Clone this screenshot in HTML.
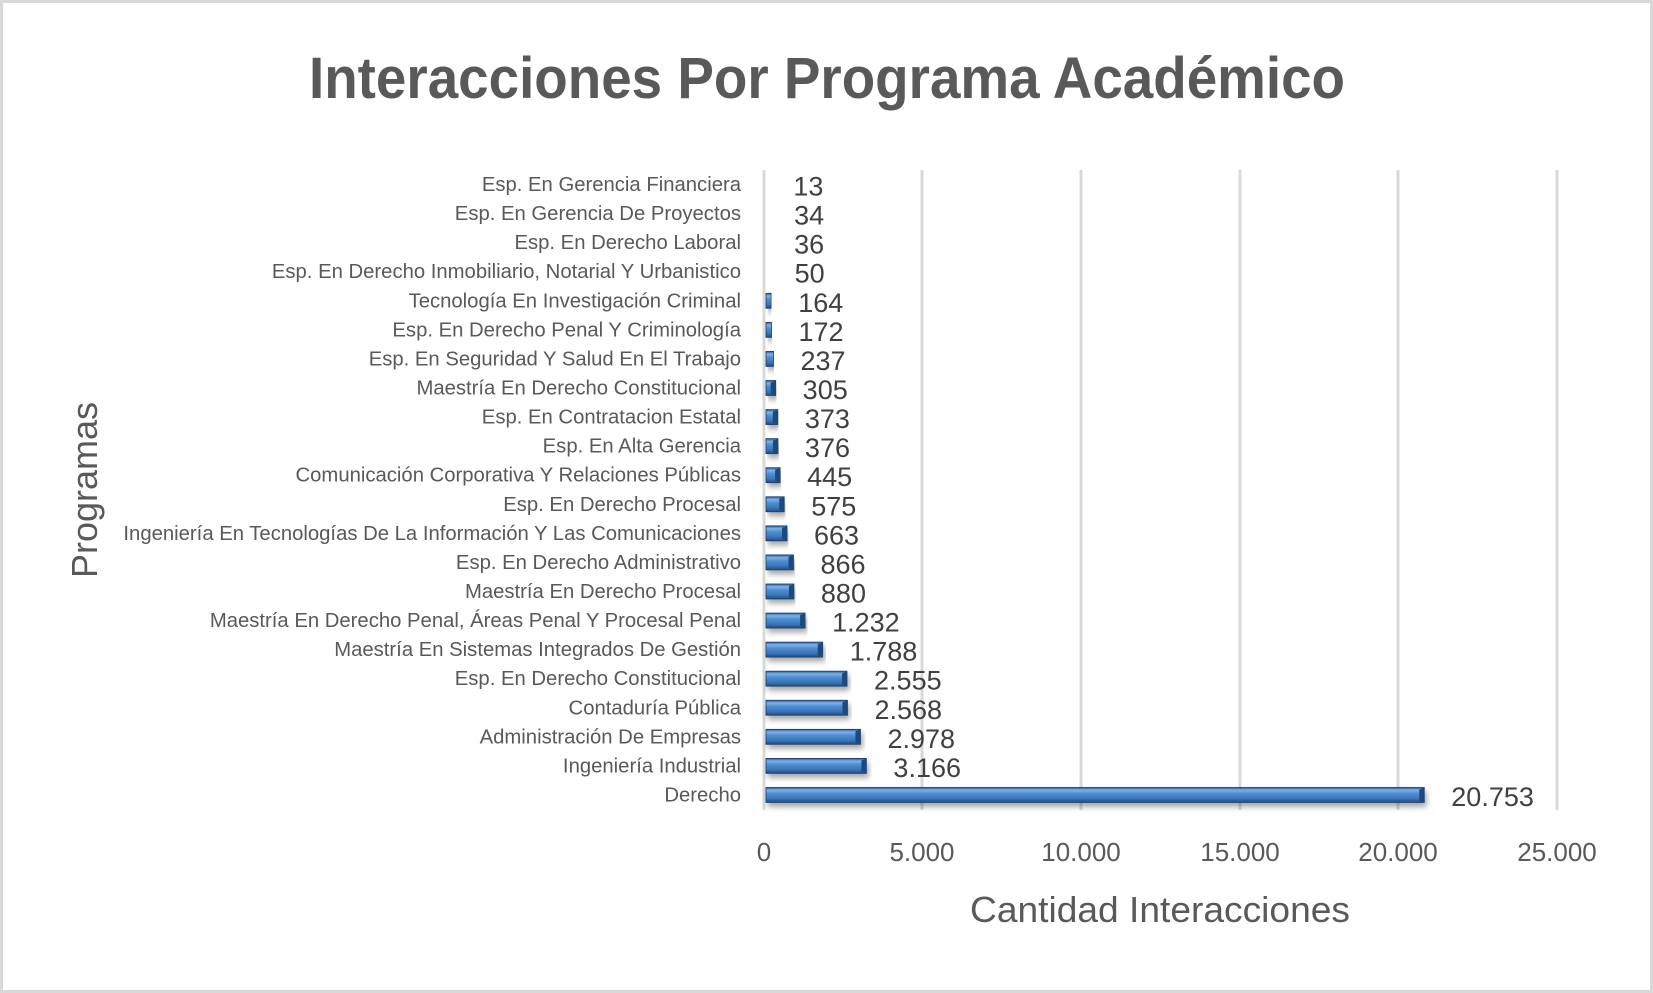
<!DOCTYPE html>
<html><head><meta charset="utf-8"><style>
html,body{margin:0;padding:0;background:#fff;}
svg{display:block;}
text{font-family:"Liberation Sans",sans-serif;}
</style></head><body>
<svg width="1653" height="993" viewBox="0 0 1653 993" xmlns="http://www.w3.org/2000/svg">
<defs>
<linearGradient id="bg" x1="0" y1="0" x2="0" y2="1">
<stop offset="0" stop-color="#2a5a96"/>
<stop offset="0.18" stop-color="#7fb2e8"/>
<stop offset="0.4" stop-color="#4f8fd2"/>
<stop offset="0.75" stop-color="#3a74b8"/>
<stop offset="1" stop-color="#1f4a7e"/>
</linearGradient>
<filter id="sh" x="-5%" y="-50%" width="110%" height="250%"><feGaussianBlur in="SourceAlpha" stdDeviation="3"/><feOffset dx="2" dy="4"/><feComponentTransfer><feFuncA type="linear" slope="0.35"/></feComponentTransfer><feMerge><feMergeNode/><feMergeNode in="SourceGraphic"/></feMerge></filter>
</defs>
<rect x="1.5" y="1.5" width="1650" height="990" fill="#fff" stroke="#d9d9d9" stroke-width="3"/>
<text x="827" y="98" text-anchor="middle" font-size="58" font-weight="bold" fill="#595959" textLength="1036" lengthAdjust="spacingAndGlyphs">Interacciones Por Programa Académico</text>
<g stroke="#d9d9d9" stroke-width="3">
<line x1="764" y1="170" x2="764" y2="810"/>
<line x1="922" y1="170" x2="922" y2="810"/>
<line x1="1081" y1="170" x2="1081" y2="810"/>
<line x1="1240" y1="170" x2="1240" y2="810"/>
<line x1="1398" y1="170" x2="1398" y2="810"/>
<line x1="1557" y1="170" x2="1557" y2="810"/>
</g>
<g id="rows"></g>
<g font-size="26" fill="#595959" text-anchor="middle">
<text x="764" y="861">0</text>
<text x="922" y="861">5.000</text>
<text x="1081" y="861">10.000</text>
<text x="1240" y="861">15.000</text>
<text x="1398" y="861">20.000</text>
<text x="1557" y="861">25.000</text>
</g>
<text x="1160" y="922" text-anchor="middle" font-size="36" fill="#595959" textLength="380" lengthAdjust="spacingAndGlyphs">Cantidad Interacciones</text>
<text transform="translate(97,490) rotate(-90)" text-anchor="middle" font-size="36" fill="#595959" textLength="176" lengthAdjust="spacingAndGlyphs">Programas</text>
</svg>
<script>
var d=[["Esp. En Gerencia Financiera",13,"13"],["Esp. En Gerencia De Proyectos",34,"34"],["Esp. En Derecho Laboral",36,"36"],["Esp. En Derecho Inmobiliario, Notarial Y Urbanistico",50,"50"],["Tecnología En Investigación Criminal",164,"164"],["Esp. En Derecho Penal Y Criminología",172,"172"],["Esp. En Seguridad Y Salud En El Trabajo",237,"237"],["Maestría En Derecho Constitucional",305,"305"],["Esp. En Contratacion Estatal",373,"373"],["Esp. En Alta Gerencia",376,"376"],["Comunicación Corporativa Y Relaciones Públicas",445,"445"],["Esp. En Derecho Procesal",575,"575"],["Ingeniería En Tecnologías De La Información Y Las Comunicaciones",663,"663"],["Esp. En Derecho Administrativo",866,"866"],["Maestría En Derecho Procesal",880,"880"],["Maestría En Derecho Penal, Áreas Penal Y Procesal Penal",1232,"1.232"],["Maestría En Sistemas Integrados De Gestión",1788,"1.788"],["Esp. En Derecho Constitucional",2555,"2.555"],["Contaduría Pública",2568,"2.568"],["Administración De Empresas",2978,"2.978"],["Ingeniería Industrial",3166,"3.166"],["Derecho",20753,"20.753"]];
var g=document.getElementById('rows'),s="";
d.forEach(function(r,i){
 var cy=184.5+i*29.07, w=r[1]/25000*793, x0=766;
 s+='<text transform="translate(741,'+(cy+6.5)+') scale(0.99,1)" text-anchor="end" font-size="20.5" fill="#595959">'+r[0]+'</text>';
 if(w>2.5){
  s+='<g filter="url(#sh)"><rect x="'+x0+'" y="'+(cy-7.5)+'" width="'+w.toFixed(1)+'" height="15" fill="url(#bg)" stroke="#1f3f6a" stroke-width="0.8"/>';
  if(w>8) s+='<polygon points="'+(x0+w-5)+','+(cy-5.5)+' '+(x0+w)+','+(cy-7.5)+' '+(x0+w)+','+(cy+7.5)+' '+(x0+w-5)+','+(cy+5.5)+'" fill="#1f4a7e"/>';
  s+='</g>';
 }
 s+='<text x="'+(x0+w+27)+'" y="'+(cy+11)+'" font-size="27" fill="#404040">'+r[2]+'</text>';
});
g.innerHTML=s;
</script>
</body></html>
